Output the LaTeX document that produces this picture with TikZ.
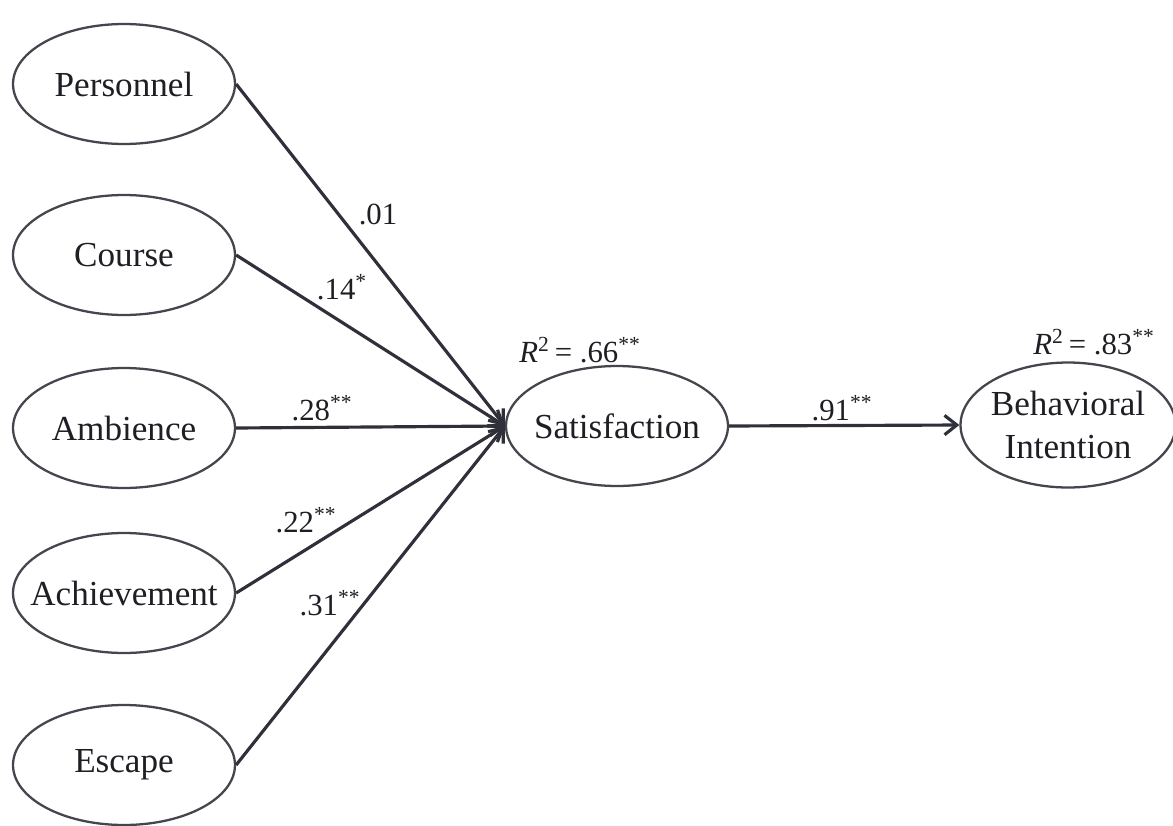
\documentclass[tikz,border=0pt]{standalone}
\usepackage{fontspec}
\setmainfont{Liberation Serif}
\usetikzlibrary{arrows.meta,shapes.geometric}

\begin{document}
\begin{tikzpicture}[x=0.02cm,y=-0.02cm,
    every node/.style={align=center,text=ink},
    construct/.style={ellipse,draw=rim,line width=1.3pt,inner xsep=-0.4cm,inner ysep=0pt,
      minimum width=4.44cm,minimum height=2.4cm,font=\fontsize{20}{25}\selectfont},
    path/.style={draw=wire,line width=1.8pt,-{Straight Barb[length=7pt,width=11pt,line width=1.8pt]}},
    coef/.style={font=\fontsize{17.5}{20}\selectfont}]
  \definecolor{ink}{HTML}{1E1E24}
  \definecolor{wire}{HTML}{30303A}
  \definecolor{rim}{HTML}{45454E}
  \useasboundingbox (0,0) rectangle (1173,825);
  % Predictors on the left, one column.
  \node[construct] (personnel) at (124,84) {Personnel};
  \node[construct] (course) at (124,255) {Course};
  \node[construct] (ambience) at (124,428) {Ambience};
  \node[construct] (achieve) at (124,593) {Achievement};
  \node[construct] (escape) at (124,765) {Escape};
  % Mediator and outcome.
  \node[construct] (satisf) at (617,426) {Satisfaction};
  \node[construct,minimum width=4.3cm,minimum height=2.5cm] (intent) at (1068,425) {Behavioral\\Intention};
  % Paths into satisfaction, each from the right tip of its ellipse.
  \draw[path] (personnel.east) -- (satisf.west);
  \draw[path] (course.east) -- (satisf.west);
  \draw[path] (ambience.east) -- (satisf.west);
  \draw[path] (achieve.east) -- (satisf.west);
  \draw[path] (escape.east) -- (satisf.west);
  \draw[path] (satisf.east) -- (intent.west);
  % Path coefficients.
  \node[coef] (c1) at (378,214) {.01};
  \node[coef] (c2) at (342,287) {.14\textsuperscript{*}};
  \node[coef] (c3) at (322,408) {.28\textsuperscript{**}};
  \node[coef] (c4) at (306,520) {.22\textsuperscript{**}};
  \node[coef] (c5) at (330,603) {.31\textsuperscript{**}};
  \node[coef] (c6) at (842,408) {.91\textsuperscript{**}};
  % Explained variance above the endogenous constructs.
  \node[coef] (r1) at (580,350) {\textit{R}\textsuperscript{2}\,= .66\textsuperscript{**}};
  \node[coef] (r2) at (1094,342) {\textit{R}\textsuperscript{2}\,= .83\textsuperscript{**}};
\end{tikzpicture}
\end{document}
